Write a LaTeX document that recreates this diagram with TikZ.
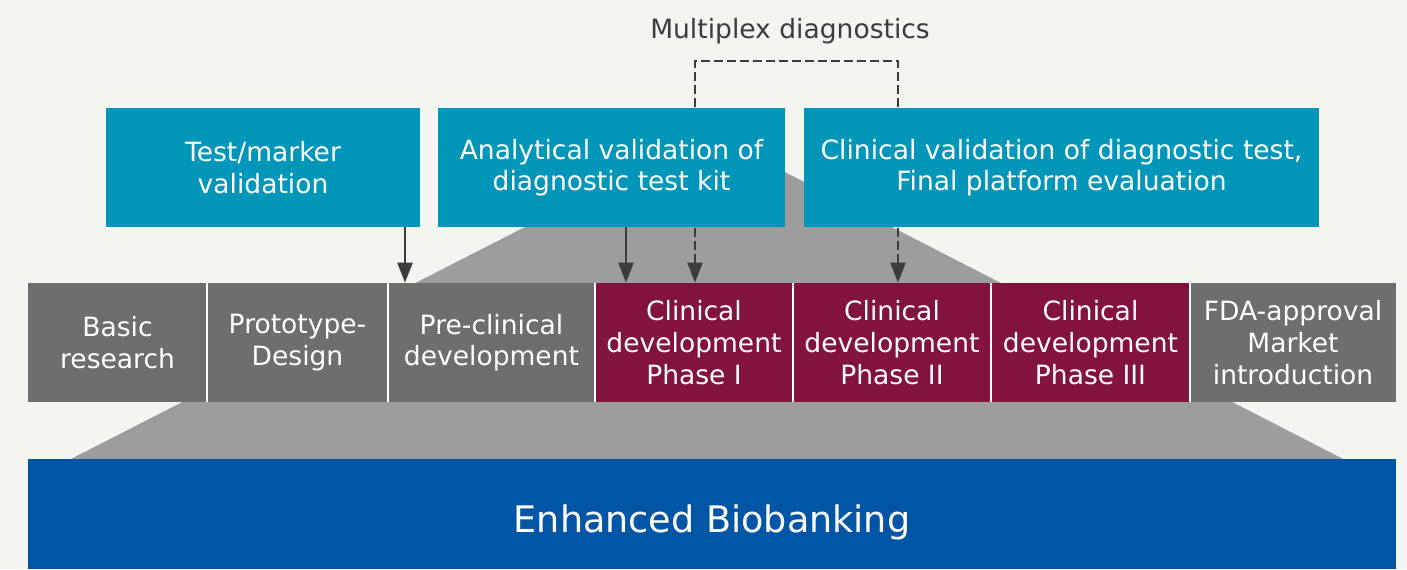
\documentclass[tikz,border=0pt]{standalone}
\usepackage{fontspec}
\setmainfont{DejaVu Sans}
\usetikzlibrary{arrows.meta}

\definecolor{paper}{HTML}{F4F5F0}
\definecolor{funnel}{HTML}{9D9D9C}
\definecolor{valteal}{HTML}{0096B9}
\definecolor{phgray}{HTML}{6E6E6E}
\definecolor{phred}{HTML}{82133E}
\definecolor{bioblue}{HTML}{0055A5}
\definecolor{arrgray}{HTML}{3C3C3B}

\newcommand\phasefont{\fontsize{15.1}{18}\selectfont}
\newcommand\biofont{\fontsize{20.8}{25}\selectfont}

\pgfdeclarelayer{back}
\pgfdeclarelayer{mid}
\pgfsetlayers{back,mid,main}

\tikzset{
    valbox/.style={fill=valteal, text=white, align=center, inner sep=0pt,
        minimum height=23.8mm, font=\phasefont},
    phase/.style={text=white, align=center, inner sep=0pt,
        minimum height=23.8mm, font=\phasefont},
    arr/.style={arrgray, line width=0.5mm, -{Triangle[length=4mm,width=3mm]}},
    multi/.style={arrgray, line width=0.5mm, dash pattern=on 1.8mm off 0.8mm,
        {Triangle[length=4mm,width=3mm]}-{Triangle[length=4mm,width=3mm]}}
}

\begin{document}
\begin{tikzpicture}[x=0.2mm,y=-0.2mm]

\useasboundingbox (0,0) rectangle (1407,569);

\begin{pgfonlayer}{back}
\fill[paper] (0,0) rectangle (1407,569);
% Funnel behind the phases
\fill[funnel] (65,462) -- (709,133) -- (1349,462) -- cycle;
\end{pgfonlayer}

% Validation boxes
\node[valbox, minimum width=62.8mm] (tm) at (263,167.5) {Test/marker\\validation};
\node[valbox, minimum width=69.4mm] (av) at (611.5,167.5) {Analytical validation of\\diagnostic test kit};
\node[valbox, minimum width=103mm] (cv) at (1061.5,167.5) {Clinical validation of diagnostic test,\\Final platform evaluation};

% Phases
\node[phase, fill=phgray, minimum width=35.8mm] (basic) at (117.5,342.5) {Basic\\research};
\node[phase, fill=phgray, minimum width=36.2mm] (proto) at (297.5,342.5) {Prototype-\\Design};
\node[phase, fill=phgray, minimum width=41.4mm] (precl) at (491.5,342.5) {Pre-clinical\\development};
\node[phase, fill=phred, minimum width=39.6mm] (ph1) at (694,342.5) {Clinical\\development\\Phase I};
\node[phase, fill=phred, minimum width=39.6mm] (ph2) at (892,342.5) {Clinical\\development\\Phase II};
\node[phase, fill=phred, minimum width=39.8mm] (ph3) at (1090.5,342.5) {Clinical\\development\\Phase III};
\node[phase, fill=phgray, minimum width=41.2mm] (fda) at (1293,342.5) {FDA-approval\\Market\\introduction};

\foreach \c in {basic,proto,precl,ph1,ph2,ph3}
    \draw[white, line width=0.4mm] (\c.north east) -- (\c.south east);

% Enhanced Biobanking
\node[fill=bioblue, text=white, inner sep=0pt, minimum width=273.6mm,
    minimum height=22mm, text height=7.2mm, text depth=0pt,
    font=\biofont] (bio) at (712,514) {Enhanced Biobanking};

\node[text=arrgray, font=\phasefont] (mlabel) at (790,31) {Multiplex diagnostics};

% Arrows
\coordinate (tmx) at (405,0);
\coordinate (avx) at (626,0);
\coordinate (mleft) at (695,61);
\coordinate (mright) at (898,61);

\draw[arr] (tm.south -| tmx) -- (precl.north -| tmx);
\draw[arr] (av.south -| avx) -- (ph1.north -| avx);

\begin{pgfonlayer}{mid}
\draw[multi] (ph1.north -| mleft) -- (mleft) -- (mright) -- (ph2.north -| mright);
\end{pgfonlayer}

\end{tikzpicture}
\end{document}
